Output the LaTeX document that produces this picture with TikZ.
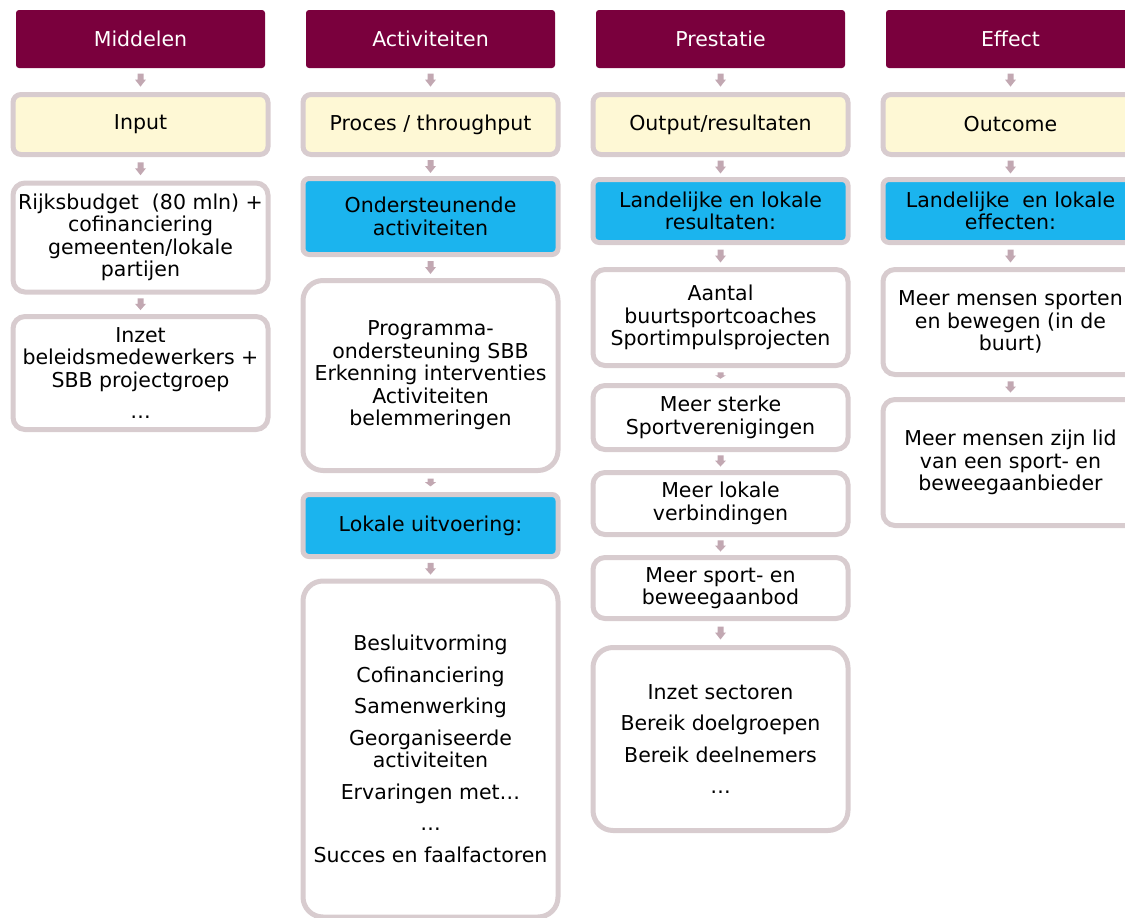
\documentclass[tikz,border=0pt]{standalone}
\usepackage{fontspec}
\setmainfont{DejaVu Sans}
\usetikzlibrary{calc}
\definecolor{bordc}{RGB}{216,204,207}
\definecolor{arrc}{RGB}{194,168,178}
\definecolor{hdrc}{RGB}{122,0,61}
\definecolor{yelc}{RGB}{254,248,213}
\definecolor{bluc}{RGB}{27,180,238}
\tikzset{
  txt/.style={font=\fontsize{20.5}{22.5}\selectfont, align=center, inner sep=0pt},
  hdr/.style={txt, fill=hdrc, text=white, rounded corners=3pt, minimum width=249pt, minimum height=58pt},
  bx/.style={txt, draw=bordc, line width=5pt, minimum width=255pt},
  ybox/.style={bx, fill=yelc, rounded corners=8pt, minimum height=60pt},
  bbox/.style={bx, fill=bluc, rounded corners=6pt},
  wbox/.style={bx, fill=white, rounded corners=12pt},
  wbig/.style={bx, fill=white, rounded corners=20pt},
}
\newcommand\blk[3][1]{%
  \path ($(#2.south)!0.5!(#3.north)$) coordinate (m);
  \fill[arrc, shift={(m)}, yscale=#1] (-3pt,6.5pt) -- (3pt,6.5pt) -- (3pt,0.5pt) -- (5.5pt,0.5pt) -- (0pt,-6.5pt) -- (-5.5pt,0.5pt) -- (-3pt,0.5pt) -- cycle;}
\begin{document}
\begin{tikzpicture}[x=1pt,y=-1pt]
\useasboundingbox (0,0) rectangle (1125,918);
\clip (0,0) rectangle (1125,918);
% column 1
\node[hdr] (h1) at (140.5,39) {Middelen};
\node[ybox] (y1) at (140.5,124.5) {Input};
\node[wbox, minimum height=109pt] (c1a) at (140.5,237.5) {Rijksbudget~ (80 mln) +\\cofinanciering\\gemeenten/lokale\\partijen};
\node[wbox, minimum height=113pt] (c1b) at (140.5,373) {Inzet\\beleidsmedewerkers +\\SBB projectgroep\\[9pt]…};
% column 2
\node[hdr] (h2) at (430.5,39) {Activiteiten};
\node[ybox] (y2) at (430.5,124.5) {Proces / throughput};
\node[bbox, minimum height=76pt] (c2a) at (430.5,216.5) {Ondersteunende\\activiteiten};
\node[wbig, minimum height=190pt] (c2b) at (430.5,375.5) {Programma-\\ondersteuning SBB\\Erkenning interventies\\Activiteiten\\belemmeringen};
\node[bbox, minimum height=62pt] (c2c) at (430.5,525.5) {Lokale uitvoering:};
\node[wbig, minimum height=336pt] (c2d) at (430.5,749) {Besluitvorming\\[9pt]Cofinanciering\\[9pt]Samenwerking\\[9pt]Georganiseerde\\activiteiten\\[9pt]Ervaringen met…\\[9pt]…\\[9pt]Succes en faalfactoren};
% column 3
\node[hdr] (h3) at (720.5,39) {Prestatie};
\node[ybox] (y3) at (720.5,124.5) {Output/resultaten};
\node[bbox, minimum height=63pt] (c3a) at (720.5,211) {Landelijke en lokale\\resultaten:};
\node[wbox, minimum height=96pt] (c3b) at (720.5,317.5) {Aantal\\buurtsportcoaches\\Sportimpulsprojecten};
\node[wbox, minimum height=64pt] (c3c) at (720.5,417.5) {Meer sterke\\Sportverenigingen};
\node[wbox, minimum height=62pt] (c3d) at (720.5,503.5) {Meer lokale\\verbindingen};
\node[wbox, minimum height=61pt] (c3e) at (720.5,588) {Meer sport- en\\beweegaanbod};
\node[wbig, minimum height=183pt] (c3f) at (720.5,739) {Inzet sectoren\\[9pt]Bereik doelgroepen\\[9pt]Bereik deelnemers\\[9pt]…};
% column 4
\node[hdr] (h4) at (1010.5,39) {Effect};
\node[ybox] (y4) at (1010.5,124.5) {Outcome};
\node[bbox, minimum height=63pt] (c4a) at (1010.5,211) {Landelijke~ en lokale\\effecten:};
\node[wbox, minimum height=105pt] (c4b) at (1010.5,322) {Meer mensen sporten\\en bewegen (in de\\buurt)};
\node[wbox, minimum height=126pt] (c4c) at (1010.5,462.5) {Meer mensen zijn lid\\van een sport- en\\beweegaanbieder};
% arrows
\blk{h1}{y1} \blk{y1}{c1a} \blk[0.9]{c1a}{c1b}
\blk{h2}{y2} \blk{y2}{c2a} \blk{c2a}{c2b} \blk[0.6]{c2b}{c2c} \blk[0.9]{c2c}{c2d}
\blk{h3}{y3} \blk{y3}{c3a} \blk{c3a}{c3b} \blk[0.5]{c3b}{c3c} \blk[0.85]{c3c}{c3d} \blk[0.85]{c3d}{c3e} \blk{c3e}{c3f}
\blk{h4}{y4} \blk{y4}{c4a} \blk{c4a}{c4b} \blk[0.85]{c4b}{c4c}
\end{tikzpicture}
\end{document}
